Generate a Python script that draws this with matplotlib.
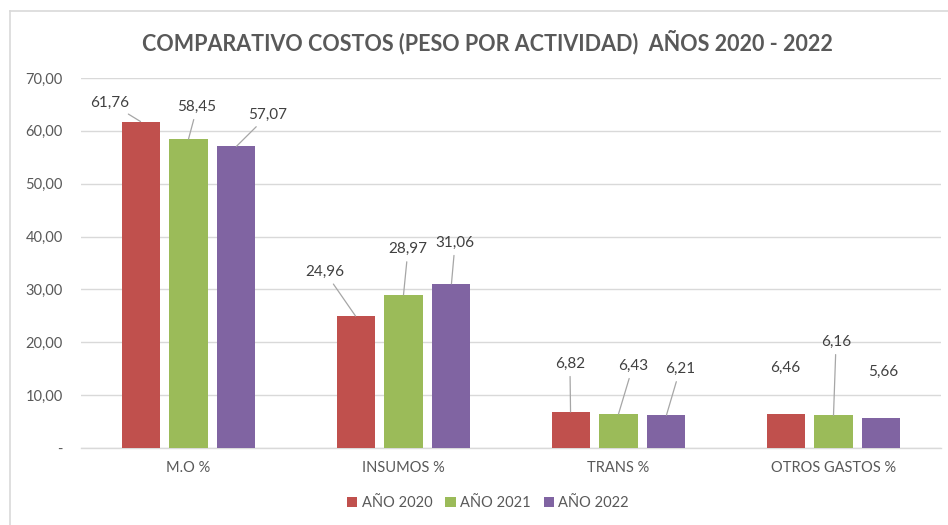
import numpy as np
import matplotlib
matplotlib.use("Agg")
import matplotlib.pyplot as plt
from matplotlib.lines import Line2D
from matplotlib.patches import Patch

categories = ["M.O %", "INSUMOS %", "TRANS %", "OTROS GASTOS %"]
series_names = ["AÑO 2020", "AÑO 2021", "AÑO 2022"]
values = {
    "AÑO 2020": [61.76, 24.96, 6.82, 6.46],
    "AÑO 2021": [58.45, 28.97, 6.43, 6.16],
    "AÑO 2022": [57.07, 31.06, 6.21, 5.66],
}
colors = ["#C0504D", "#9BBB59", "#8064A2"]

# label placement (offset in category units, y in data units, draw leader?)
label_pos = {
    "AÑO 2020": [(-0.365, 65.3, True), (-0.365, 33.3, True), (-0.226, 15.9, True), (-0.226, 15.1, False)],
    "AÑO 2021": [(0.040, 64.5, True), (0.021, 37.6, True), (0.067, 15.5, True), (0.012, 20.05, True)],
    "AÑO 2022": [(0.370, 63.0, True), (0.240, 38.8, True), (0.286, 14.9, True), (0.230, 14.4, False)],
}

plt.rcParams["font.family"] = ["Lato", "DejaVu Sans"]
txt = "#595959"

fig = plt.figure(figsize=(9.48, 5.25), dpi=100)
ax = fig.add_axes([81 / 948, 1 - 448 / 525, 860 / 948, 370 / 525])

x = np.arange(len(categories))
step, width = 0.223, 0.177
for k, name in enumerate(series_names):
    xs = x + (k - 1) * step
    ax.bar(xs, values[name], width=width, color=colors[k], zorder=3)
    for i, v in enumerate(values[name]):
        dx, ly, leader = label_pos[name][i]
        lx = x[i] + dx
        ap = dict(arrowstyle="-", color="#a6a6a6", lw=0.9, shrinkA=2, shrinkB=0) if leader else None
        ax.annotate(f"{v:.2f}".replace(".", ","), xy=(xs[i], v), xytext=(lx, ly),
                    ha="center", va="center", fontsize=11, color="#404040",
                    arrowprops=ap, zorder=4)

ax.set_xlim(-0.5, len(categories) - 0.5)
ax.set_ylim(0, 70)
yt = np.arange(0, 71, 10)
ax.set_yticks(yt)
ax.set_yticklabels(["-" if t == 0 else f"{t:.2f}".replace(".", ",") for t in yt])
ax.set_xticks(x)
ax.set_xticklabels(categories)
ax.tick_params(axis="both", length=0, labelsize=10.5, colors=txt)
ax.tick_params(axis="y", pad=13)
ax.tick_params(axis="x", pad=9)
ax.grid(axis="y", color="#d9d9d9", lw=1, zorder=0)
for s in ["top", "right", "left"]:
    ax.spines[s].set_visible(False)
ax.spines["bottom"].set_color("#d9d9d9")
ax.spines["bottom"].set_linewidth(1)

fig.text(487 / 948, 1 - 42 / 525, "COMPARATIVO COSTOS (PESO POR ACTIVIDAD)  AÑOS 2020 - 2022",
         ha="center", va="center", fontsize=15.5, fontweight="bold", color=txt)

handles = [Patch(facecolor=c) for c in colors]
fig.legend(handles, series_names, loc="center", bbox_to_anchor=(488 / 948, 1 - 503 / 525),
           ncol=3, frameon=False, fontsize=10.5, labelcolor=txt,
           handlelength=0.7, handleheight=0.7, handletextpad=0.3, columnspacing=0.9)

# chart border (top and left visible)
fig.add_artist(Line2D([10 / 948, 10 / 948], [0, 1 - 11 / 525], color="#d9d9d9", lw=1.2))
fig.add_artist(Line2D([10 / 948, 1], [1 - 11 / 525, 1 - 11 / 525], color="#d9d9d9", lw=1.2))

fig.savefig("out.png", dpi=100)
